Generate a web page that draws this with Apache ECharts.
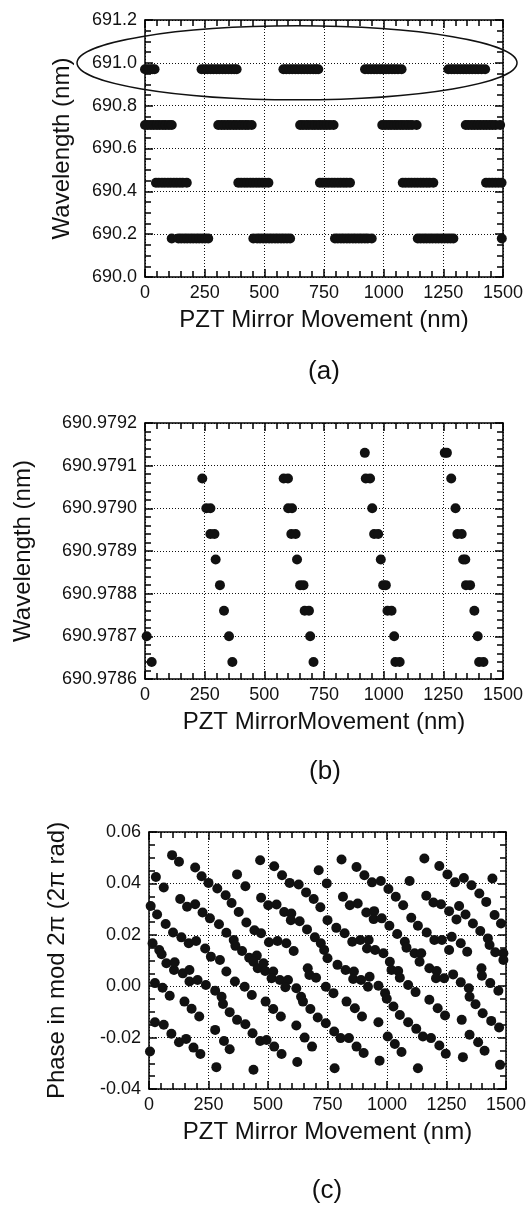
<!DOCTYPE html>
<html>
<head>
<meta charset="utf-8">
<title>PZT mirror movement</title>
<script src="https://cdn.jsdelivr.net/npm/echarts@6/dist/echarts.min.js"></script>
<style>
  html, body { margin: 0; padding: 0; background: #fff; }
  #chart { width: 529px; height: 1207px; }
</style>
</head>
<body>
<div id="chart"></div>
<script>
// (a) wavelength levels and the mirror positions where each level shows up
const aLevels = [690.97, 690.71, 690.44, 690.18]
const aX0 = [0, 10, 20, 30, 40,
  237, 250, 262, 275, 287, 300, 312, 325, 337, 350, 362, 374, 384,
  580, 592, 605, 617, 630, 642, 655, 667, 680, 692, 705, 716, 726,
  922, 935, 947, 960, 972, 985, 997, 1010, 1022, 1035, 1047, 1060, 1075,
  1271, 1284, 1296, 1309, 1321, 1334, 1346, 1359, 1371, 1384, 1396, 1410, 1425]
const aX1 = [0, 12, 25, 37, 50, 62, 75, 87, 100, 112,
  307, 320, 332, 345, 357, 370, 382, 395, 407, 420, 432, 447,
  650, 662, 675, 687, 700, 712, 725, 737, 750, 762, 775, 790,
  994, 1006, 1019, 1031, 1044, 1056, 1069, 1081, 1094, 1106, 1119, 1138,
  1344, 1356, 1369, 1381, 1394, 1406, 1419, 1431, 1444, 1456, 1469, 1488]
const aX2 = [46, 58, 71, 83, 96, 108, 121, 133, 146, 158, 175,
  391, 403, 416, 428, 441, 453, 466, 478, 491, 503, 517,
  733, 745, 758, 770, 783, 795, 808, 820, 833, 845, 859,
  1080, 1092, 1105, 1117, 1130, 1142, 1155, 1167, 1180, 1192, 1208,
  1429, 1442, 1455, 1468, 1481, 1494]
const aX3 = [112, 140, 152, 165, 177, 190, 202, 215, 227, 240, 252, 265,
  454, 470, 482, 495, 507, 520, 532, 545, 557, 570, 582, 595, 608,
  796, 808, 821, 833, 846, 858, 871, 883, 896, 908, 921, 933, 950,
  1143, 1155, 1168, 1180, 1193, 1205, 1218, 1230, 1243, 1255, 1268, 1280, 1292,
  1495]
const aXs = [aX0, aX1, aX2, aX3]

// (b) zoom on the 691.0 nm level
const bX = [7, 28,
  240, 257, 274, 274, 291, 296, 314, 331, 352, 366,
  581, 599, 600, 616, 613, 631, 637, 650, 664, 669, 687, 692, 706,
  921, 925, 943, 952, 960, 977, 988, 998, 1009, 1016, 1033, 1044, 1049, 1067,
  1256, 1265, 1283, 1301, 1309, 1327, 1333, 1342, 1345, 1362, 1380, 1394, 1400, 1418]
const bY = [690.97870, 690.97864,
  690.97907, 690.97900, 690.97900, 690.97894, 690.97894, 690.97888, 690.97882, 690.97876, 690.97870, 690.97864,
  690.97907, 690.97907, 690.97900, 690.97900, 690.97894, 690.97894, 690.97888, 690.97882, 690.97882, 690.97876, 690.97876, 690.97870, 690.97864,
  690.97913, 690.97907, 690.97907, 690.97900, 690.97894, 690.97894, 690.97888, 690.97882, 690.97882, 690.97876, 690.97876, 690.97870, 690.97864, 690.97864,
  690.97913, 690.97913, 690.97907, 690.97900, 690.97894, 690.97894, 690.97888, 690.97888, 690.97882, 690.97882, 690.97876, 690.97870, 690.97864, 690.97864]

// (c) phase in mod 2pi
const cX = [97, 126, 29, 62, 194, 221, 250, 287, 322, 347, 377, 409, 443, 467, 370, 405, 471, 501,
  7, 34, 131, 160, 194, 225, 256, 294, 325, 356, 70, 101, 136, 167, 198, 236, 260, 15, 43, 53,
  363, 391, 421, 453, 526, 559, 591, 629, 660, 692, 720, 713, 747, 809, 872, 905, 937,
  536, 568, 598, 596, 633, 664, 697, 722, 750, 787, 822, 854, 815, 844, 877, 913, 946, 944, 978,
  471, 504, 540, 577, 608, 736, 888, 923, 916, 950,
  1157, 1220, 1254, 1286, 1323, 1355, 1388, 1417, 1443, 1095, 974, 1006, 1037, 1068,
  1165, 1195, 1227, 1261, 1303, 1292, 1330, 1361, 1392, 1424, 1431, 1452, 1479,
  1010, 1102, 1130, 1043, 1075, 1082, 1167, 1199, 1231, 1272, 1310, 1261, 1337, 1455, 1489, 985, 1116, 1144,
  73, 105, 142, 170, 108, 170, 204, 239, 25, 57, 87, 149, 179, 211,
  298, 325, 361, 402, 432, 278, 305, 311, 339, 370, 405, 435,
  25, 62, 94, 126, 156, 187, 216, 4, 278, 315, 339, 283, 439, 439, 457,
  481, 488, 522, 515, 550, 584, 573, 619, 639, 647, 678, 709, 743, 778, 805, 840, 872, 902,
  667, 674, 702, 743, 775, 750, 792, 826, 861, 858, 891, 927, 920,
  490, 522, 554, 619, 830, 865, 895, 467, 494, 526, 557, 654, 685, 623, 780,
  1012, 1019, 1047, 1054, 1137, 1178, 1209, 1206, 1240, 1278, 1310, 1344, 1347, 1372, 1402, 1438, 1471,
  1397, 1399, 1434, 1468, 1489, 964, 992, 999, 1027, 1054, 1089, 1123, 1151, 1185, 1220, 1247,
  1089, 1120, 1178, 1213, 1244, 1314, 1347, 1383, 1410, 964, 1003, 1033, 1061, 969, 1130, 1319, 1475]
const cY = [0.0510, 0.0484, 0.0425, 0.0384, 0.0462, 0.0428, 0.0402, 0.0380, 0.0354, 0.0324, 0.0289, 0.0248, 0.0218, 0.0490, 0.0435, 0.0389, 0.0344, 0.0315,
  0.0312, 0.0279, 0.0339, 0.0309, 0.0319, 0.0287, 0.0264, 0.0241, 0.0208, 0.0180, 0.0242, 0.0209, 0.0190, 0.0167, 0.0176, 0.0147, 0.0115, 0.0167, 0.0141, 0.0124,
  0.0157, 0.0137, 0.0111, 0.0119, 0.0467, 0.0432, 0.0402, 0.0396, 0.0365, 0.0339, 0.0307, 0.0451, 0.0400, 0.0493, 0.0464, 0.0432, 0.0404,
  0.0318, 0.0289, 0.0283, 0.0257, 0.0253, 0.0221, 0.0190, 0.0167, 0.0257, 0.0227, 0.0206, 0.0173, 0.0348, 0.0315, 0.0322, 0.0287, 0.0292, 0.0261, 0.0264,
  0.0206, 0.0171, 0.0176, 0.0167, 0.0137, 0.0141, 0.0180, 0.0180, 0.0147, 0.0141,
  0.0497, 0.0468, 0.0435, 0.0404, 0.0421, 0.0393, 0.0361, 0.0328, 0.0419, 0.0409, 0.0409, 0.0378, 0.0348, 0.0315,
  0.0352, 0.0326, 0.0319, 0.0292, 0.0312, 0.0260, 0.0279, 0.0244, 0.0215, 0.0186, 0.0160, 0.0277, 0.0244,
  0.0235, 0.0266, 0.0235, 0.0203, 0.0173, 0.0150, 0.0209, 0.0180, 0.0180, 0.0192, 0.0167, 0.0141, 0.0134, 0.0132, 0.0128, 0.0128, 0.0128, 0.0128,
  0.0089, 0.0063, 0.0050, 0.0063, 0.0093, 0.0018, 0.0024, 0.0005, 0.0012, -0.0006, -0.0037, -0.0060, -0.0088, -0.0118,
  0.0102, 0.0057, 0.0018, -0.0002, -0.0034, -0.0018, -0.0041, -0.0069, -0.0101, -0.0131, -0.0148, -0.0183,
  -0.0140, -0.0150, -0.0185, -0.0218, -0.0205, -0.0239, -0.0264, -0.0254, -0.0170, -0.0213, -0.0245, -0.0315, -0.0325, 0.0095, 0.0070,
  0.0089, 0.0059, 0.0057, 0.0031, 0.0024, 0.0024, -0.0004, -0.0008, -0.0041, -0.0060, -0.0089, -0.0122, -0.0144, -0.0176, -0.0202, -0.0202, -0.0235, -0.0260,
  0.0070, 0.0044, 0.0033, -0.0002, -0.0027, 0.0109, 0.0083, 0.0063, 0.0057, 0.0028, 0.0024, 0.0037, -0.0002,
  -0.0060, -0.0089, -0.0118, -0.0153, -0.0060, -0.0086, -0.0118, -0.0213, -0.0209, -0.0235, -0.0264, -0.0200, -0.0235, -0.0295, -0.0319,
  0.0095, 0.0063, 0.0059, 0.0033, 0.0095, 0.0070, 0.0059, 0.0031, 0.0031, 0.0046, 0.0015, -0.0008, -0.0041, -0.0070, -0.0105, -0.0135, -0.0161,
  0.0070, 0.0041, 0.0012, -0.0018, 0.0102, 0.0002, -0.0027, -0.0049, -0.0079, -0.0112, -0.0140, -0.0166, -0.0196, -0.0202, -0.0231, -0.0263,
  0.0005, -0.0023, -0.0053, -0.0086, -0.0114, -0.0131, -0.0189, -0.0218, -0.0251, -0.0140, -0.0196, -0.0225, -0.0256, -0.0290, -0.0319, -0.0276, -0.0306]

const FONT = 'Liberation Sans, Arial, Helvetica, sans-serif'
const INK = '#111'

// 刻度线朝内，四边都有
function tick(len) {
  return { show: true, inside: true, length: len, lineStyle: { color: '#000', width: 1.5 } }
}

function xAxisFor(grid, pos) {
  const main = pos === 'bottom'
  return {
    gridIndex: grid,
    type: 'value',
    position: pos,
    min: 0,
    max: 1500,
    interval: 250,
    axisLine: { show: true, onZero: false, lineStyle: { color: '#000', width: 1.5 } },
    axisTick: tick(8),
    minorTick: Object.assign(tick(6), { splitNumber: 5 }),
    splitLine: { show: main, lineStyle: { color: INK, type: [1, 2], width: 1 } },
    axisLabel: {
      show: main, margin: 7, color: INK, fontSize: 18, fontFamily: FONT,
      showMinLabel: true, showMaxLabel: true,
      formatter: v => String(Math.round(v))
    },
    name: main ? (grid === 1 ? 'PZT MirrorMovement (nm)' : 'PZT Mirror Movement (nm)') : '',
    nameLocation: 'middle',
    nameGap: 31,
    nameTextStyle: { color: INK, fontSize: 24, fontFamily: FONT }
  }
}

function yAxisFor(grid, pos, min, max, interval, minor, digits, name, gap) {
  const main = pos === 'left'
  return {
    gridIndex: grid,
    type: 'value',
    position: pos,
    min: min,
    max: max,
    interval: interval,
    axisLine: { show: true, onZero: false, lineStyle: { color: '#000', width: 1.5 } },
    axisTick: tick(8),
    minorTick: Object.assign(tick(6), { splitNumber: minor }),
    splitLine: { show: main, lineStyle: { color: INK, type: [1, 2], width: 1 } },
    axisLabel: {
      show: main, margin: 8, color: INK, fontSize: 18, fontFamily: FONT,
      showMinLabel: true, showMaxLabel: true,
      formatter: v => v.toFixed(digits)
    },
    name: main ? name : '',
    nameLocation: 'middle',
    nameGap: gap,
    nameTextStyle: { color: INK, fontSize: 24, fontFamily: FONT }
  }
}

const aData = []
aLevels.forEach((lv, i) => {
  aXs[i].forEach(x => aData.push([x, lv]))
})
const bData = bX.map((x, i) => [x, bY[i]])
const cData = cX.map((x, i) => [x, cY[i]])

function dots(idx, data, size) {
  return {
    type: 'scatter',
    xAxisIndex: idx,
    yAxisIndex: idx,
    data: data,
    symbol: 'circle',
    symbolSize: size,
    clip: false,
    silent: true,
    itemStyle: { color: INK, opacity: 1 }
  }
}

function caption(id, text, x, y) {
  return {
    id: id, type: 'text', x: x, y: y, silent: true,
    style: { text: text, font: '26px ' + FONT, fill: INK, textAlign: 'center', textVerticalAlign: 'middle' }
  }
}

const myChart = echarts.init(document.getElementById('chart'))

const options = {
  animation: false,
  backgroundColor: '#fff',
  grid: [
    { left: 145, top: 20, width: 358, height: 257 },
    { left: 145, top: 423, width: 358, height: 256 },
    { left: 149, top: 832, width: 362, height: 257 }
  ],
  xAxis: [
    xAxisFor(0, 'bottom'), xAxisFor(0, 'top'),
    xAxisFor(1, 'bottom'), xAxisFor(1, 'top'),
    xAxisFor(2, 'bottom'), xAxisFor(2, 'top')
  ],
  yAxis: [
    yAxisFor(0, 'left', 690.0, 691.2, 0.2, 4, 1, 'Wavelength (nm)', 71),
    yAxisFor(0, 'right', 690.0, 691.2, 0.2, 4, 1, '', 0),
    yAxisFor(1, 'left', 690.9786, 690.9792, 0.0001, 5, 4, 'Wavelength (nm)', 110),
    yAxisFor(1, 'right', 690.9786, 690.9792, 0.0001, 5, 4, '', 0),
    yAxisFor(2, 'left', -0.04, 0.06, 0.02, 4, 2, 'Phase in mod 2\u03c0 (2\u03c0 rad)', 80),
    yAxisFor(2, 'right', -0.04, 0.06, 0.02, 4, 2, '', 0)
  ],
  series: [
    dots(0, aData, 10),
    dots(2, bData, 10),
    dots(4, cData, 10)
  ],
  graphic: [
    caption('capA', '(a)', 324, 372),
    caption('capB', '(b)', 325, 772),
    caption('capC', '(c)', 327, 1191)
  ]
}

myChart.setOption(options)

// 椭圆圈出 691.0 nm 那一行
const ctr = myChart.convertToPixel({ gridIndex: 0 }, [637, 691.0])
myChart.setOption({
  graphic: [{
    id: 'ring691', type: 'ellipse', silent: true, z: 10,
    shape: { cx: ctr[0], cy: ctr[1], rx: 220, ry: 37 },
    style: { fill: 'none', stroke: INK, lineWidth: 1.5 }
  }]
})
</script>
</body>
</html>
